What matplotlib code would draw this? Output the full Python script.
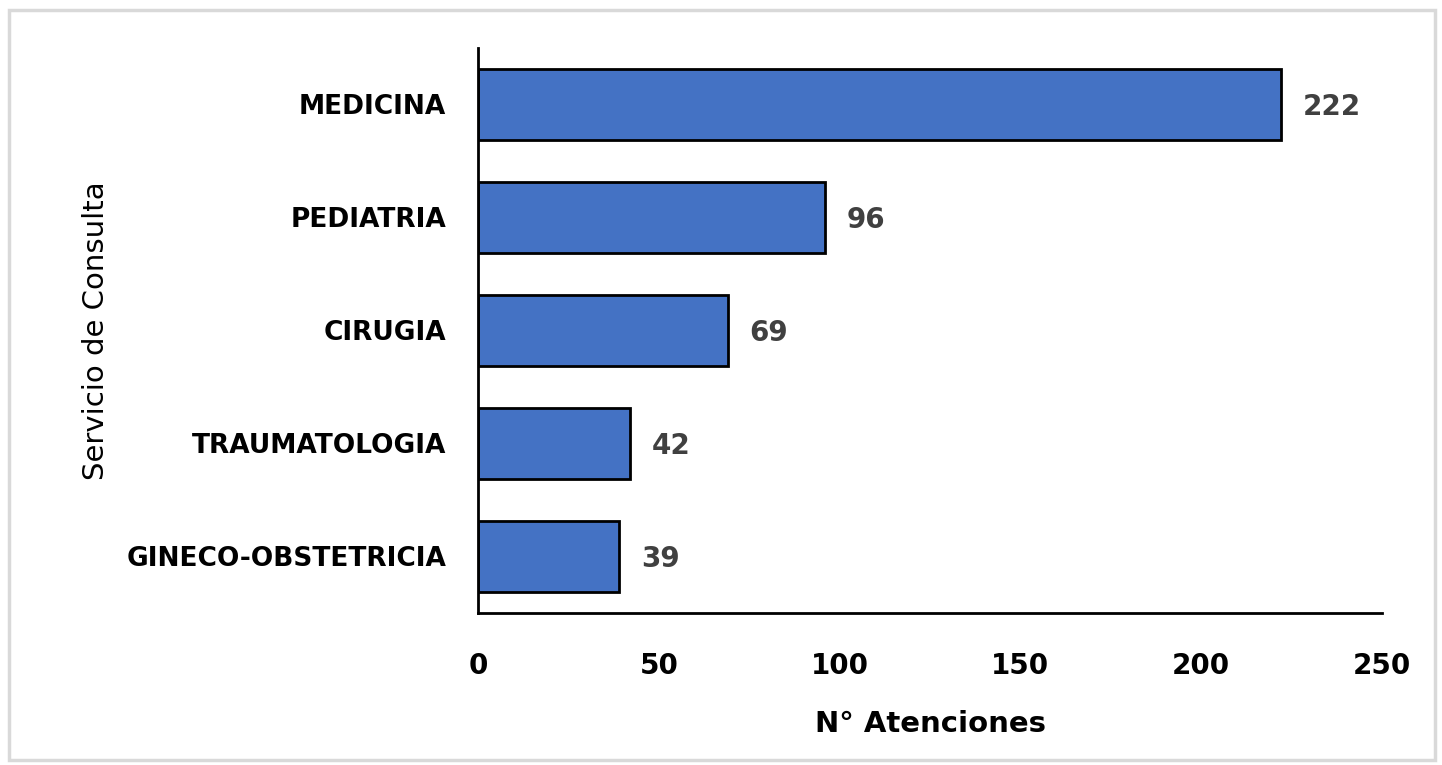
import matplotlib.pyplot as plt
from matplotlib.patches import Rectangle

# datos
servicios = ["MEDICINA", "PEDIATRIA", "CIRUGIA", "TRAUMATOLOGIA", "GINECO-OBSTETRICIA"]
atenciones = [222, 96, 69, 42, 39]
xticks = [0, 50, 100, 150, 200, 250]

fuente = ["DejaVu Sans"]

fig = plt.figure(figsize=(14.42, 7.65), dpi=100)
ax = fig.add_axes([0.3315, 0.1987, 0.6269, 0.7386])

# borde gris exterior
fig.patches.append(Rectangle((0.006, 0.007), 0.989, 0.98, transform=fig.transFigure,
                             fill=False, edgecolor="#d9d9d9", linewidth=2.5))

pos = list(range(len(servicios)))
ax.barh(pos, atenciones, height=0.63, color="#4472C4", edgecolor="black", linewidth=2)

for p, v in zip(pos, atenciones):
    ax.text(v + 6, p + 0.02, str(v), va="center", ha="left", fontsize=20,
            fontweight="bold", color="#404040", family=fuente)

ax.set_ylim(len(servicios) - 0.5, -0.5)
ax.set_xlim(0, 250)
ax.set_yticks(pos)
ax.set_yticklabels(servicios, fontsize=19, fontweight="bold", family=fuente)
ax.set_xticks(xticks)
ax.set_xticklabels([str(t) for t in xticks], fontsize=20, fontweight="bold", family=fuente)
ax.tick_params(axis="both", length=0)
ax.tick_params(axis="y", pad=23)
ax.tick_params(axis="x", pad=28)

for s in ["top", "right"]:
    ax.spines[s].set_visible(False)
for s in ["left", "bottom"]:
    ax.spines[s].set_linewidth(2)
    ax.spines[s].set_color("black")

ax.set_xlabel("N° Atenciones", fontsize=21, fontweight="bold", labelpad=22, family=fuente)
ax.set_ylabel("Servicio de Consulta", fontsize=21, labelpad=12, family=fuente)

fig.savefig("out.png", dpi=100)
